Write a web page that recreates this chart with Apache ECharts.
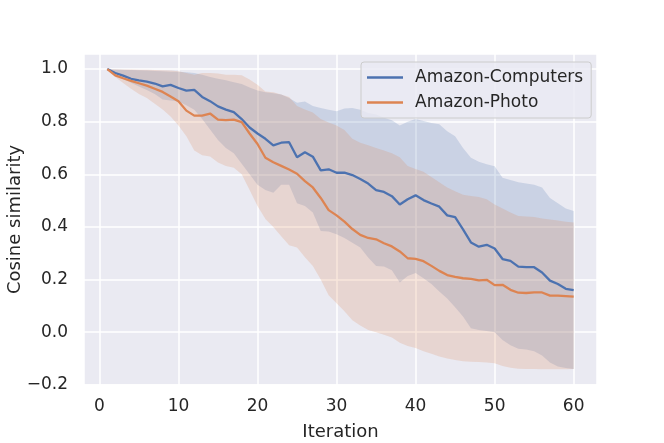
<!DOCTYPE html>
<html>
<head>
<meta charset="utf-8">
<script src="https://cdn.jsdelivr.net/npm/echarts@6/dist/echarts.min.js"></script>
<style>
html,body{margin:0;padding:0;background:#fff;}
#chart{width:664px;height:443px;}
</style>
</head>
<body>
<div id="chart"></div>
<script>
// ---- data ----
const iterations = Array.from({length: 60}, (_, k) => k + 1);

const computersMean = [1.0,0.985,0.975,0.963,0.957,0.952,0.945,0.934,0.94,0.928,
  0.918,0.921,0.894,0.878,0.858,0.846,0.836,0.81,0.778,0.755,
  0.735,0.71,0.72,0.722,0.665,0.684,0.667,0.615,0.619,0.606,
  0.606,0.597,0.582,0.565,0.54,0.533,0.517,0.485,0.505,0.52,
  0.502,0.489,0.477,0.444,0.437,0.391,0.341,0.325,0.332,0.318,
  0.278,0.271,0.249,0.247,0.247,0.227,0.196,0.183,0.165,0.16];
const computersUpper = [1.0,0.998,0.997,0.996,0.995,0.994,0.993,0.992,0.99,0.99,
  0.988,0.985,0.978,0.97,0.963,0.957,0.95,0.943,0.93,0.918,
  0.912,0.908,0.903,0.89,0.872,0.877,0.86,0.852,0.845,0.84,
  0.85,0.852,0.845,0.833,0.827,0.815,0.805,0.785,0.8,0.81,
  0.803,0.795,0.79,0.764,0.745,0.7,0.663,0.648,0.638,0.631,
  0.587,0.578,0.57,0.565,0.56,0.55,0.51,0.49,0.47,0.461];
const computersLower = [1.0,0.98,0.962,0.948,0.934,0.92,0.905,0.884,0.88,0.877,
  0.862,0.845,0.81,0.77,0.73,0.70,0.68,0.64,0.6,0.56,
  0.54,0.53,0.56,0.56,0.49,0.48,0.455,0.385,0.383,0.372,
  0.358,0.34,0.322,0.284,0.252,0.25,0.235,0.189,0.214,0.225,
  0.205,0.183,0.155,0.128,0.095,0.06,0.015,0.008,0.005,0.0,
  -0.03,-0.05,-0.063,-0.066,-0.072,-0.089,-0.115,-0.13,-0.136,-0.14];

const photoMean = [1.0,0.976,0.965,0.955,0.946,0.937,0.925,0.913,0.896,0.878,
  0.842,0.823,0.823,0.831,0.808,0.806,0.808,0.798,0.755,0.715,
  0.663,0.646,0.632,0.618,0.602,0.574,0.55,0.51,0.464,0.444,
  0.42,0.392,0.37,0.358,0.353,0.338,0.326,0.307,0.281,0.279,
  0.27,0.252,0.233,0.217,0.21,0.205,0.203,0.197,0.199,0.179,
  0.18,0.161,0.15,0.149,0.151,0.151,0.139,0.139,0.137,0.135];
const photoUpper = [1.0,0.999,0.998,0.998,0.997,0.997,0.996,0.995,0.994,0.992,
  0.985,0.978,0.985,0.985,0.983,0.978,0.978,0.976,0.96,0.94,
  0.915,0.912,0.903,0.894,0.86,0.846,0.835,0.81,0.797,0.785,
  0.768,0.735,0.72,0.71,0.7,0.69,0.68,0.665,0.632,0.62,
  0.61,0.59,0.57,0.55,0.536,0.522,0.518,0.514,0.505,0.485,
  0.47,0.455,0.442,0.44,0.438,0.432,0.428,0.424,0.42,0.417];
const photoLower = [1.0,0.97,0.947,0.925,0.905,0.89,0.868,0.846,0.82,0.785,
  0.745,0.69,0.672,0.668,0.645,0.632,0.625,0.6,0.54,0.48,
  0.43,0.4,0.365,0.33,0.322,0.285,0.252,0.2,0.14,0.11,
  0.08,0.045,0.025,0.008,0.0,-0.01,-0.02,-0.04,-0.052,-0.06,
  -0.072,-0.082,-0.092,-0.1,-0.106,-0.11,-0.112,-0.113,-0.115,-0.118,
  -0.128,-0.135,-0.139,-0.14,-0.14,-0.141,-0.141,-0.141,-0.141,-0.14];

const seriesNames = ['Amazon-Computers', 'Amazon-Photo'];
const xTicks = [0, 10, 20, 30, 40, 50, 60];
const yTicks = [-0.2, 0.0, 0.2, 0.4, 0.6, 0.8, 1.0];

// ---- chart ----
const BLUE = '#4c72b0', ORANGE = '#dd8452', TEXT = '#262626';
const FONT = 'DejaVu Sans';

function rows(lo, hi) { return iterations.map((x, k) => [x, lo[k], hi[k]]); }
function pairs(v) { return iterations.map((x, k) => [x, v[k]]); }
function isTick(list, v) { return list.some(t => Math.abs(t - v) < 1e-6); }

function bandRenderer(color) {
  return function (params, api) {
    if (params.dataIndexInside !== 0) return null;
    const n = params.dataInsideLength;
    const top = [], bottom = [];
    for (let k = 0; k < n; k++) {
      const x = api.value(0, k);
      top.push(api.coord([x, api.value(2, k)]));
      bottom.push(api.coord([x, api.value(1, k)]));
    }
    return {
      type: 'polygon',
      shape: { points: top.concat(bottom.reverse()) },
      style: { fill: color, opacity: 0.2 }
    };
  };
}

const chart = echarts.init(document.getElementById('chart'), null, { renderer: 'canvas' });
const xMin = 1 - 0.05 * 59, xMax = 60 + 0.05 * 59;
const yLo = -0.1435, yHi = 1.0, yPad = 0.05 * (yHi - yLo);

chart.setOption({
  animation: false,
  backgroundColor: '#ffffff',
  textStyle: { fontFamily: FONT, color: TEXT },
  grid: { left: 84, right: 67, top: 54, bottom: 58, show: true, backgroundColor: '#eaeaf2', borderWidth: 0,
          containLabel: false, outerBoundsMode: 'none' },
  xAxis: {
    type: 'value', min: xMin, max: xMax, splitNumber: 6,
    name: 'Iteration', nameLocation: 'middle', nameGap: 38, nameMoveOverlap: false,
    nameTextStyle: { fontSize: 18, color: TEXT, fontFamily: FONT },
    axisLine: { show: false }, axisTick: { show: false },
    axisLabel: {
      fontSize: 17, color: TEXT, fontFamily: FONT, margin: 13,
      showMinLabel: false, showMaxLabel: false,
      formatter: v => isTick(xTicks, v) ? String(Math.round(v)) : ''
    },
    splitLine: { show: true, lineStyle: { color: '#ffffff', width: 1.5 } }
  },
  yAxis: {
    type: 'value', min: yLo - yPad, max: yHi + yPad, splitNumber: 6,
    name: 'Cosine similarity', nameLocation: 'middle', nameGap: 60, nameRotate: 90, nameMoveOverlap: false,
    nameTextStyle: { fontSize: 18, color: TEXT, fontFamily: FONT },
    axisLine: { show: false }, axisTick: { show: false },
    axisLabel: {
      fontSize: 17, color: TEXT, fontFamily: FONT, margin: 16,
      formatter: v => isTick(yTicks, v) ? (v < -1e-9 ? '\u2212' : '') + Math.abs(v).toFixed(1) : ''
    },
    splitLine: { show: true, lineStyle: { color: '#ffffff', width: 1.5 } }
  },
  legend: {
    orient: 'vertical', left: 361, top: 62,
    padding: [7, 8, 7, 6], itemGap: 8,
    itemWidth: 36, itemHeight: 2.3,
    backgroundColor: 'rgba(234,234,242,0.8)', borderColor: '#cccccc', borderWidth: 1, borderRadius: 3,
    textStyle: { fontSize: 17, color: TEXT, fontFamily: FONT, padding: [0, 0, 0, 7] },
    data: [
      { name: seriesNames[0], icon: 'rect', itemStyle: { color: BLUE } },
      { name: seriesNames[1], icon: 'rect', itemStyle: { color: ORANGE } }
    ]
  },
  series: [
    { type: 'custom', name: 'band0', data: rows(computersLower, computersUpper), renderItem: bandRenderer(BLUE), silent: true, z: 1 },
    { type: 'custom', name: 'band1', data: rows(photoLower, photoUpper), renderItem: bandRenderer(ORANGE), silent: true, z: 1 },
    { type: 'line', name: seriesNames[0], data: pairs(computersMean), showSymbol: false, symbol: 'none',
      lineStyle: { color: BLUE, width: 2.3 }, itemStyle: { color: BLUE }, z: 3 },
    { type: 'line', name: seriesNames[1], data: pairs(photoMean), showSymbol: false, symbol: 'none',
      lineStyle: { color: ORANGE, width: 2.3 }, itemStyle: { color: ORANGE }, z: 3 }
  ]
});
</script>
</body>
</html>
